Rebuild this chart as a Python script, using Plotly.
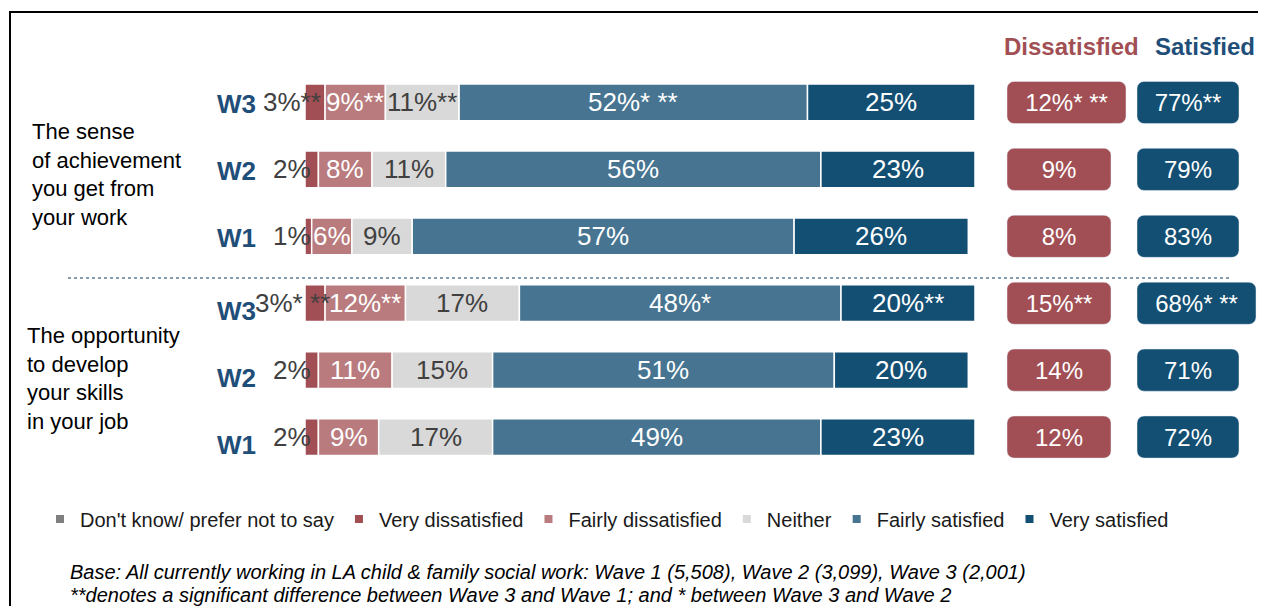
import plotly.graph_objects as go

# page has an 8px body margin, so the figure is sized to fit inside it
OFF = 8
FW, FH = 1250, 598

rows = ["Achievement W3", "Achievement W2", "Achievement W1",
        "Skills W3", "Skills W2", "Skills W1"]
waves = ["W3", "W2", "W1", "W3", "W2", "W1"]
groups = ["The sense<br>of achievement<br>you get from<br>your work",
          "The opportunity<br>to develop<br>your skills<br>in your job"]

dont_know = [0, 0, 0, 0, 0, 0]
very_dis = [3, 2, 1, 3, 2, 2]
fairly_dis = [9, 8, 6, 12, 11, 9]
neither = [11, 11, 9, 17, 15, 17]
fairly_sat = [52, 56, 57, 48, 51, 49]
very_sat = [25, 23, 26, 20, 20, 23]
dissatisfied = [12, 9, 8, 15, 14, 12]
satisfied = [77, 79, 83, 68, 71, 72]

# significance markers
very_dis_sig = ["**", "", "", "* **", "", ""]
fairly_dis_sig = ["**", "", "", "**", "", ""]
neither_sig = ["**", "", "", "", "", ""]
fairly_sat_sig = ["* **", "", "", "*", "", ""]
very_sat_sig = ["", "", "", "**", "", ""]
dissat_sig = ["* **", "", "", "**", "", ""]
sat_sig = ["**", "", "", "* **", "", ""]

FONT = "Liberation Sans, Arial, sans-serif"
C_DK = "#7f7f7f"
C_VD = "#a14f54"
C_FD = "#b97b7d"
C_NE = "#d9d9d9"
C_FS = "#467491"
C_VS = "#134f73"
C_HEAD = "#1f4e79"


def px_x(p):
    return (p - OFF) / FW


def px_y(p):
    return 1 - (p - OFF) / FH


series = [
    ("Don't know/ prefer not to say", dont_know, C_DK, None, None),
    ("Very dissatisfied", very_dis, C_VD, very_dis_sig, "#404040"),
    ("Fairly dissatisfied", fairly_dis, C_FD, fairly_dis_sig, "white"),
    ("Neither", neither, C_NE, neither_sig, "#404040"),
    ("Fairly satisfied", fairly_sat, C_FS, fairly_sat_sig, "white"),
    ("Very satisfied", very_sat, C_VS, very_sat_sig, "white"),
]

fig = go.Figure()
annotations = []
base = [0] * len(rows)
for name, vals, color, sig, tcol in series:
    fig.add_trace(go.Bar(
        y=rows, x=vals, base=list(base), orientation="h", width=0.55,
        marker=dict(color=color, line=dict(color="white", width=1.5)),
        showlegend=False, hoverinfo="skip",
    ))
    # legend proxy with small square markers
    fig.add_trace(go.Scatter(
        x=[None], y=[None], mode="markers", name=name,
        marker=dict(symbol="square", size=8, color=color),
    ))
    if sig is not None:
        for i, v in enumerate(vals):
            if name == "Very dissatisfied":
                # label sits just left of the bar start
                ann = dict(x=px_x(292), xref="paper")
            else:
                ann = dict(x=base[i] + v / 2, xref="x")
            ann.update(y=rows[i], yref="y", text=f"{v}%{sig[i]}",
                       showarrow=False, xanchor="center", yanchor="middle",
                       font=dict(family=FONT, size=26, color=tcol))
            annotations.append(ann)
    base = [b + v for b, v in zip(base, vals)]

# summary boxes on the right
box_w = [119 if "* **" in s else 104 for s in dissat_sig]
fig.add_trace(go.Bar(
    y=rows, x=box_w, base=[7] * len(rows), orientation="h", width=0.63,
    xaxis="x2", marker=dict(color=C_VD, cornerradius=7),
    text=[f"{v}%{s}" for v, s in zip(dissatisfied, dissat_sig)],
    textposition="inside", insidetextanchor="middle", textangle=0,
    insidetextfont=dict(family=FONT, size=24, color="white"),
    showlegend=False, hoverinfo="skip",
))
box_w = [119 if "* **" in s else 102 for s in sat_sig]
fig.add_trace(go.Bar(
    y=rows, x=box_w, base=[137] * len(rows), orientation="h", width=0.63,
    xaxis="x2", marker=dict(color=C_VS, cornerradius=7),
    text=[f"{v}%{s}" for v, s in zip(satisfied, sat_sig)],
    textposition="inside", insidetextanchor="middle", textangle=0,
    insidetextfont=dict(family=FONT, size=24, color="white"),
    showlegend=False, hoverinfo="skip",
))

# wave labels
for i, w in enumerate(waves):
    annotations.append(dict(
        x=px_x(258), y=rows[i], xref="paper", yref="y", text=f"<b>{w}</b>",
        showarrow=False, xanchor="right", yanchor="middle",
        yshift=-2 if i < 3 else -8,
        font=dict(family=FONT, size=26, color=C_HEAD),
    ))

# group labels
annotations.append(dict(x=px_x(30), y=px_y(175), xref="paper", yref="paper",
                        text=groups[0], showarrow=False, xanchor="left",
                        yanchor="middle", align="left",
                        font=dict(family=FONT, size=22, color="black")))
annotations.append(dict(x=px_x(25), y=px_y(378), xref="paper", yref="paper",
                        text=groups[1], showarrow=False, xanchor="left",
                        yanchor="middle", align="left",
                        font=dict(family=FONT, size=22, color="black")))

# column headers
annotations.append(dict(x=px_x(1071), y=px_y(47), xref="paper", yref="paper",
                        text="<b>Dissatisfied</b>", showarrow=False,
                        xanchor="center", yanchor="middle",
                        font=dict(family=FONT, size=24, color=C_VD)))
annotations.append(dict(x=px_x(1205), y=px_y(47), xref="paper", yref="paper",
                        text="<b>Satisfied</b>", showarrow=False,
                        xanchor="center", yanchor="middle",
                        font=dict(family=FONT, size=24, color=C_HEAD)))

# footnote
notes = ["<i>Base: All currently working in LA child & family social work: "
         "Wave 1 (5,508), Wave 2 (3,099), Wave 3 (2,001)</i>",
         "<i>**denotes a significant difference between Wave 3 and Wave 1; "
         "and * between Wave 3 and Wave 2</i>"]
for k, note in enumerate(notes):
    annotations.append(dict(
        x=px_x(68), y=px_y(572 + 23 * k), xref="paper", yref="paper",
        xanchor="left", yanchor="middle", align="left", showarrow=False,
        text=note, font=dict(family=FONT, size=20, color="black"),
    ))

shapes = [
    dict(type="line", xref="paper", yref="paper", x0=px_x(68), x1=px_x(1232),
         y0=px_y(278), y1=px_y(278),
         line=dict(color="#5b7f99", width=1.5, dash="3px,3px")),
    dict(type="line", xref="paper", yref="paper", x0=px_x(9), x1=1.01,
         y0=px_y(12), y1=px_y(12), line=dict(color="black", width=2)),
    dict(type="line", xref="paper", yref="paper", x0=px_x(10), x1=px_x(10),
         y0=px_y(12), y1=-0.01, line=dict(color="black", width=2)),
]

fig.update_layout(
    width=FW, height=FH, margin=dict(l=0, r=0, t=0, b=0),
    paper_bgcolor="white", plot_bgcolor="white",
    barmode="overlay",
    xaxis=dict(domain=[px_x(305), px_x(975)], range=[0, 100], visible=False),
    xaxis2=dict(domain=[px_x(1000), 1], range=[0, 258], anchor="y",
                visible=False),
    yaxis=dict(domain=[px_y(470.5), px_y(69)], range=[5.5, -0.5],
               categoryorder="array", categoryarray=rows, visible=False),
    legend=dict(orientation="h", x=px_x(40), y=px_y(519), xanchor="left",
                yanchor="middle", font=dict(family=FONT, size=20,
                                            color="#1a1a1a"),
                bgcolor="rgba(0,0,0,0)"),
    annotations=annotations,
    shapes=shapes,
    font=dict(family=FONT),
)

fig.write_html("out.html")
